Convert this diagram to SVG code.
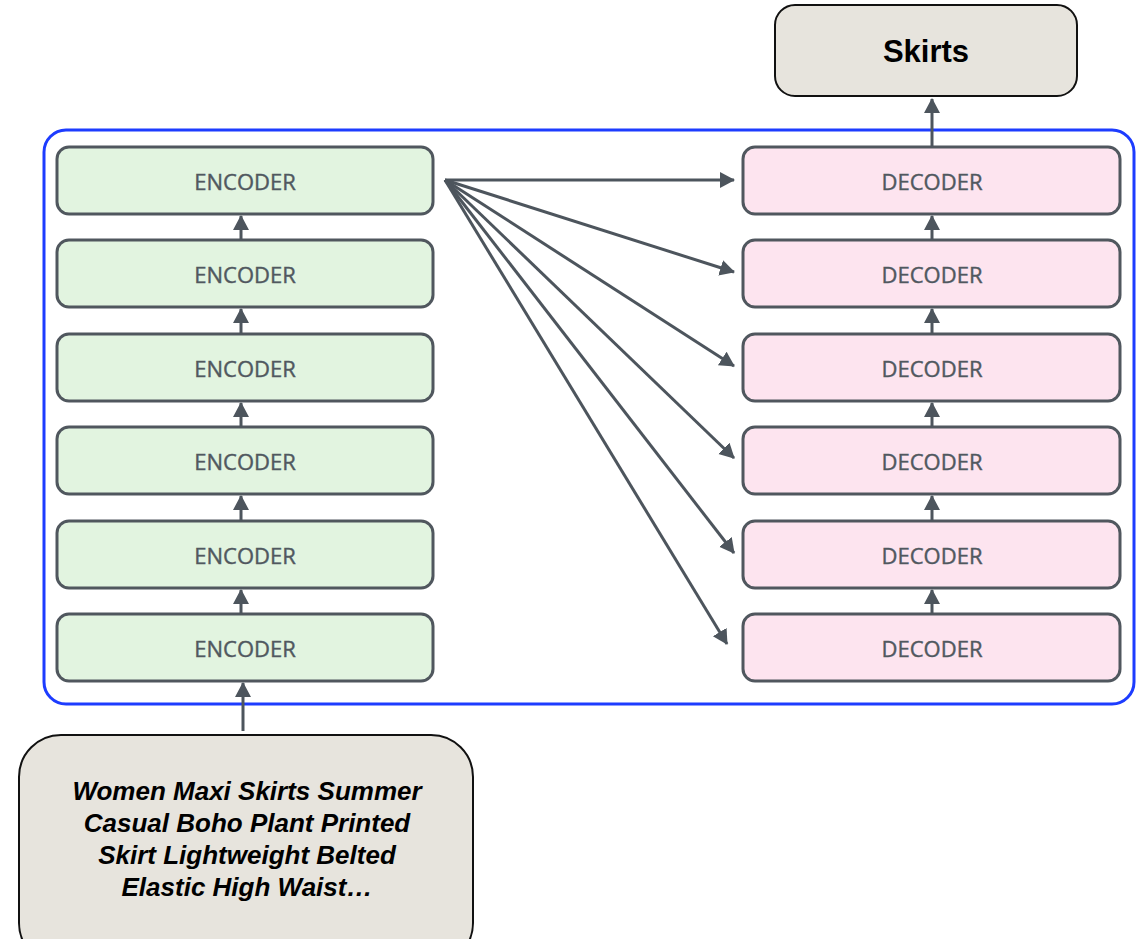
<svg xmlns="http://www.w3.org/2000/svg" width="1142" height="939" viewBox="0 0 1142 939">
<style>
.enc{fill:#e2f4e0;stroke:#50575e;stroke-width:3}
.dec{fill:#fde4ef;stroke:#50575e;stroke-width:3}
.lbl{font-family:"Open Sans","Noto Sans",sans-serif;font-size:22px;font-weight:normal;fill:#50585f;stroke:#50585f;stroke-width:0.4;text-anchor:middle;dominant-baseline:central}
.io{fill:#e7e4dd;stroke:#111;stroke-width:2}
.big{font-family:"Liberation Sans",Arial,sans-serif;font-weight:bold;fill:#000;text-anchor:middle}
.con{stroke:#4d555d;stroke-width:3;fill:none;marker-end:url(#ah)}
</style>
<defs>
<marker id="ah" markerUnits="userSpaceOnUse" markerWidth="18" markerHeight="18" refX="14" refY="8" orient="auto">
<path d="M0,0 L15,8 L0,16 Z" fill="#4d555d"/>
</marker>
</defs>
<rect width="1142" height="939" fill="#fff"/>
<rect id="container" x="44" y="130" width="1090" height="574" rx="22" fill="none" stroke="#1d3cff" stroke-width="3"/>
<g id="output"><rect class="io" x="775" y="5" width="302" height="91" rx="20"/><text class="big" x="926" y="62" font-size="31">Skirts</text></g>
<g id="input"><rect class="io" x="19" y="735" width="454" height="230" rx="42"/>
<text class="big" font-style="italic" font-size="26" x="247"><tspan x="247" y="800">Women Maxi Skirts Summer</tspan><tspan x="247" y="832">Casual Boho Plant Printed</tspan><tspan x="247" y="864">Skirt Lightweight Belted</tspan><tspan x="247" y="896">Elastic High Waist…</tspan></text></g>
<g id="enc1"><rect class="enc" x="57" y="147" width="376" height="67" rx="12"/><text class="lbl" x="245" y="181">ENCODER</text></g>
<g id="enc2"><rect class="enc" x="57" y="240" width="376" height="67" rx="12"/><text class="lbl" x="245" y="274">ENCODER</text></g>
<g id="enc3"><rect class="enc" x="57" y="334" width="376" height="67" rx="12"/><text class="lbl" x="245" y="368">ENCODER</text></g>
<g id="enc4"><rect class="enc" x="57" y="427" width="376" height="67" rx="12"/><text class="lbl" x="245" y="461">ENCODER</text></g>
<g id="enc5"><rect class="enc" x="57" y="521" width="376" height="67" rx="12"/><text class="lbl" x="245" y="555">ENCODER</text></g>
<g id="enc6"><rect class="enc" x="57" y="614" width="376" height="67" rx="12"/><text class="lbl" x="245" y="648">ENCODER</text></g>
<g id="dec1"><rect class="dec" x="743" y="147" width="377" height="67" rx="12"/><text class="lbl" x="932" y="181">DECODER</text></g>
<g id="dec2"><rect class="dec" x="743" y="240" width="377" height="67" rx="12"/><text class="lbl" x="932" y="274">DECODER</text></g>
<g id="dec3"><rect class="dec" x="743" y="334" width="377" height="67" rx="12"/><text class="lbl" x="932" y="368">DECODER</text></g>
<g id="dec4"><rect class="dec" x="743" y="427" width="377" height="67" rx="12"/><text class="lbl" x="932" y="461">DECODER</text></g>
<g id="dec5"><rect class="dec" x="743" y="521" width="377" height="67" rx="12"/><text class="lbl" x="932" y="555">DECODER</text></g>
<g id="dec6"><rect class="dec" x="743" y="614" width="377" height="67" rx="12"/><text class="lbl" x="932" y="648">DECODER</text></g>
<g id="connectors">
<line class="con" x1="243" y1="731" x2="243" y2="683"/>
<line class="con" x1="241" y1="614" x2="241" y2="590"/>
<line class="con" x1="241" y1="521" x2="241" y2="496"/>
<line class="con" x1="241" y1="427" x2="241" y2="403"/>
<line class="con" x1="241" y1="334" x2="241" y2="309"/>
<line class="con" x1="241" y1="240" x2="241" y2="216"/>
<line class="con" x1="932" y1="614" x2="932" y2="590"/>
<line class="con" x1="932" y1="521" x2="932" y2="496"/>
<line class="con" x1="932" y1="427" x2="932" y2="403"/>
<line class="con" x1="932" y1="334" x2="932" y2="309"/>
<line class="con" x1="932" y1="240" x2="932" y2="216"/>
<line class="con" x1="932" y1="147" x2="932" y2="99"/>
<line class="con" x1="445" y1="180" x2="734" y2="180"/>
<line class="con" x1="445" y1="180" x2="734" y2="272"/>
<line class="con" x1="445" y1="180" x2="734" y2="366"/>
<line class="con" x1="445" y1="180" x2="734" y2="458"/>
<line class="con" x1="445" y1="180" x2="734" y2="553"/>
<line class="con" x1="445" y1="180" x2="727" y2="644"/>
</g>
</svg>
